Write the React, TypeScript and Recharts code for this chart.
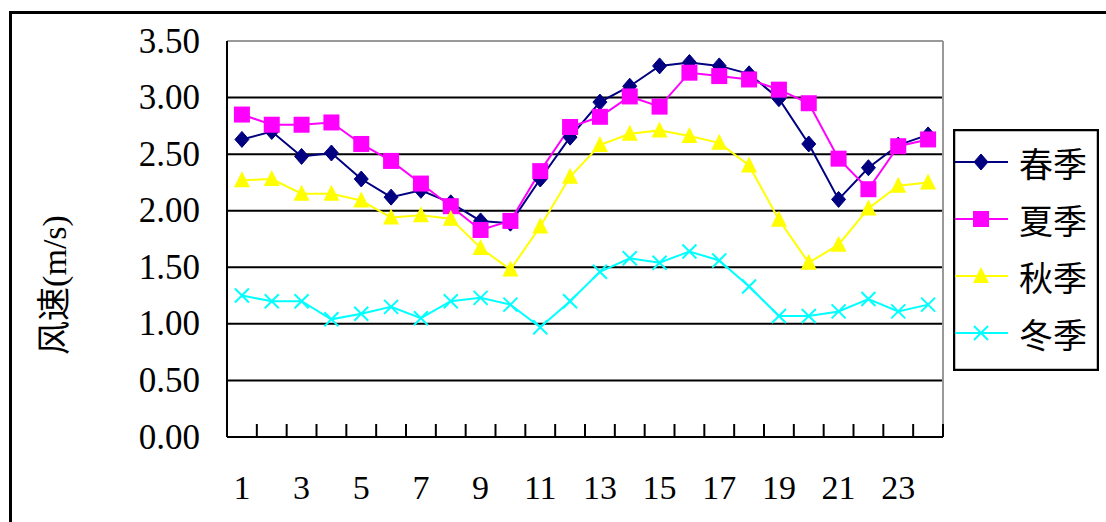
import { LineChart, Line, XAxis, YAxis, ReferenceLine, Legend } from "recharts";

const hours = [1, 2, 3, 4, 5, 6, 7, 8, 9, 10, 11, 12, 13, 14, 15, 16, 17, 18, 19, 20, 21, 22, 23, 24];
const spring = [2.63, 2.70, 2.48, 2.51, 2.28, 2.12, 2.18, 2.07, 1.91, 1.89, 2.28, 2.65, 2.96, 3.10, 3.28, 3.31, 3.28, 3.21, 2.99, 2.59, 2.10, 2.38, 2.58, 2.67];
const summer = [2.85, 2.76, 2.76, 2.78, 2.59, 2.44, 2.24, 2.04, 1.83, 1.91, 2.35, 2.74, 2.83, 3.01, 2.92, 3.22, 3.19, 3.16, 3.07, 2.95, 2.46, 2.19, 2.57, 2.63];
const autumn = [2.27, 2.28, 2.15, 2.15, 2.09, 1.94, 1.96, 1.93, 1.67, 1.48, 1.86, 2.30, 2.58, 2.68, 2.71, 2.66, 2.60, 2.40, 1.92, 1.54, 1.70, 2.02, 2.22, 2.25];
const winter = [1.25, 1.20, 1.20, 1.04, 1.09, 1.15, 1.05, 1.20, 1.23, 1.17, 0.97, 1.20, 1.46, 1.58, 1.54, 1.64, 1.56, 1.33, 1.07, 1.07, 1.11, 1.22, 1.11, 1.17];

const seasonNames = ["春季", "夏季", "秋季", "冬季"];
const yTicks = [0, 0.5, 1, 1.5, 2, 2.5, 3, 3.5];
const gridValues = [0.5, 1, 1.5, 2, 2.5, 3];
const xLabels = [1, 3, 5, 7, 9, 11, 13, 15, 17, 19, 21, 23];
const xMarks = [0.5, 1.5, 2.5, 3.5, 4.5, 5.5, 6.5, 7.5, 8.5, 9.5, 10.5, 11.5, 12.5, 13.5, 14.5, 15.5, 16.5, 17.5, 18.5, 19.5, 20.5, 21.5, 22.5, 23.5, 24.5];

const data = hours.map((h, i) => ({
  hour: h,
  spring: spring[i],
  summer: summer[i],
  autumn: autumn[i],
  winter: winter[i],
}));

const SERIF = '"Liberation Serif", "Times New Roman", serif';
const MIXED = '"Liberation Serif", "Noto Sans CJK SC", serif';
const CJK = '"Noto Sans CJK SC", sans-serif';

type Marker = "diamond" | "square" | "triangle" | "cross";

const series: { key: string; name: string; color: string; marker: Marker }[] = [
  { key: "spring", name: seasonNames[0], color: "#000080", marker: "diamond" },
  { key: "summer", name: seasonNames[1], color: "#FF00FF", marker: "square" },
  { key: "autumn", name: seasonNames[2], color: "#FFFF00", marker: "triangle" },
  { key: "winter", name: seasonNames[3], color: "#00FFFF", marker: "cross" },
];

function drawMarker(kind: Marker, cx: number, cy: number, color: string, key?: string | number) {
  if (kind === "diamond") {
    return <polygon key={key} points={`${cx},${cy - 8} ${cx + 7},${cy} ${cx},${cy + 8} ${cx - 7},${cy}`} fill={color} stroke={color} />;
  }
  if (kind === "square") {
    return <rect key={key} x={cx - 8} y={cy - 8} width={16} height={16} fill={color} />;
  }
  if (kind === "triangle") {
    return <polygon key={key} points={`${cx},${cy - 9} ${cx + 8},${cy + 7} ${cx - 8},${cy + 7}`} fill={color} />;
  }
  return (
    <g key={key} stroke={color} strokeWidth={2}>
      <line x1={cx - 7} y1={cy - 7} x2={cx + 7} y2={cy + 7} />
      <line x1={cx - 7} y1={cy + 7} x2={cx + 7} y2={cy - 7} />
    </g>
  );
}

const XTick = (props: any) => {
  const { x, y, payload } = props;
  const v = payload.value;
  if (xLabels.includes(v)) {
    return (
      <text x={x} y={y + 50} textAnchor="middle" dominantBaseline="central" fontSize={34} style={{ fontFamily: SERIF }} fill="#000">
        {v}
      </text>
    );
  }
  return <line x1={x} y1={y} x2={x} y2={y - 13} stroke="#000" strokeWidth={2} />;
};

const YTick = (props: any) => {
  const { x, y, payload } = props;
  return (
    <text x={x} y={y} textAnchor="end" dominantBaseline="central" fontSize={35} style={{ fontFamily: SERIF }} fill="#000">
      {Number(payload.value).toFixed(2)}
    </text>
  );
};

const AxisTitle = (props: any) => {
  const { viewBox } = props;
  const cx = viewBox.x + 54;
  const cy = viewBox.y + viewBox.height / 2 + 46;
  return (
    <text
      x={cx}
      y={cy}
      transform={`rotate(-90 ${cx} ${cy})`}
      textAnchor="middle"
      dominantBaseline="central"
      fontSize={34}
      style={{ fontFamily: MIXED }}
      fill="#000"
    >
      风速(m/s)
    </text>
  );
};

const LegendBox = () => (
  <svg width={146} height={242}>
    <rect x={1} y={1} width={144} height={240} fill="#fff" stroke="#000" strokeWidth={2.5} />
    {series.map((s, i) => {
      const cy = 33 + i * 57;
      return (
        <g key={s.key}>
          <line x1={2} y1={cy} x2={55} y2={cy} stroke={s.color} strokeWidth={2} />
          {drawMarker(s.marker, 28, cy, s.color)}
          <text x={66} y={cy} dominantBaseline="central" fontSize={34} style={{ fontFamily: CJK }} fill="#000">
            {s.name}
          </text>
        </g>
      );
    })}
  </svg>
);

export default function App() {
  return (
    <div style={{ position: "absolute", left: 0, top: 0, width: 1106, height: 522, background: "#fff", overflow: "hidden" }}>
      <div
        style={{
          position: "absolute",
          left: 9,
          top: 11,
          width: 1097,
          height: 511,
          boxSizing: "border-box",
          borderTop: "3px solid #000",
          borderLeft: "3px solid #000",
        }}
      />
      <div style={{ position: "absolute", left: 0, top: 0 }}>
        <LineChart width={1106} height={522} data={data} margin={{ top: 41, right: 163, bottom: 0, left: 0 }}>
          <XAxis
            type="number"
            dataKey="hour"
            domain={[0.5, 24.5]}
            ticks={[...xMarks, ...xLabels].sort((a, b) => a - b)}
            interval={0}
            tickSize={0}
            tickMargin={0}
            tickLine={false}
            tick={<XTick />}
            axisLine={{ stroke: "#000", strokeWidth: 2 }}
            height={85}
            allowDataOverflow
          />
          <YAxis
            type="number"
            domain={[0, 3.5]}
            ticks={yTicks}
            interval={0}
            tickSize={0}
            tickMargin={27}
            tickLine={false}
            tick={<YTick />}
            axisLine={{ stroke: "#000", strokeWidth: 2 }}
            width={227}
            label={(p: any) => <AxisTitle {...p} />}
          />
          {gridValues.map((v) => (
            <ReferenceLine key={v} y={v} stroke="#000" strokeWidth={2} />
          ))}
          <ReferenceLine y={3.5} stroke="#999" strokeWidth={2} />
          <ReferenceLine x={24.5} stroke="#999" strokeWidth={2} />
          <Legend
            layout="vertical"
            align="center"
            verticalAlign="middle"
            content={() => <LegendBox />}
            wrapperStyle={{ left: 953, top: 129, width: 146, height: 242 }}
          />
          {series.map((s) => (
            <Line
              key={s.key}
              type="linear"
              dataKey={s.key}
              name={s.name}
              stroke={s.color}
              strokeWidth={2}
              isAnimationActive={false}
              dot={(p: any) => drawMarker(s.marker, p.cx, p.cy, s.color, p.index)}
              activeDot={false}
            />
          ))}
        </LineChart>
      </div>
    </div>
  );
}
